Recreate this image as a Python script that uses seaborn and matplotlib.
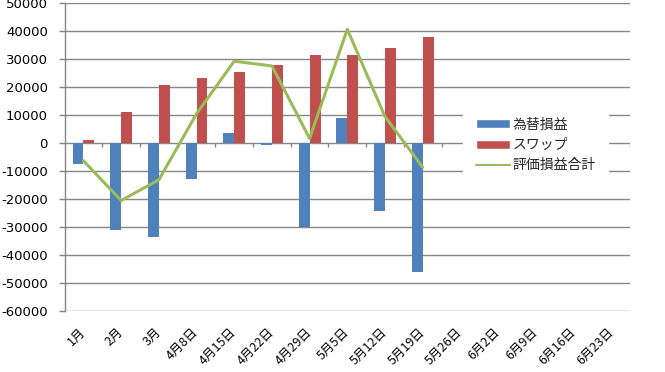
import numpy as np
import pandas as pd
import matplotlib
matplotlib.use("Agg")
import matplotlib.pyplot as plt
import seaborn as sns
from matplotlib.patches import Patch
from matplotlib.lines import Line2D

categories = ["1月", "2月", "3月", "4月8日", "4月15日", "4月22日", "4月29日",
              "5月5日", "5月12日", "5月19日", "5月26日", "6月2日", "6月9日",
              "6月16日", "6月23日"]
fx_pl = [-7300, -31200, -33700, -12700, 3700, -500, -29900, 9000, -24400, -46200]
swap = [1200, 11200, 20800, 23300, 25500, 28000, 31500, 31500, 34000, 38000]
total = [-6300, -20500, -13100, 10500, 29300, 27600, 1700, 40700, 9500, -8600]
series_names = ["為替損益", "スワップ", "評価損益合計"]
yticks = list(range(-60000, 50001, 10000))

sns.set_theme(style="white")
plt.rcParams['font.family'] = ['Noto Sans CJK JP', 'DejaVu Sans']

n = len(categories)
pad = [np.nan] * (n - len(fx_pl))
df = pd.DataFrame({
    "cat": categories * 2,
    "value": fx_pl + pad + swap + pad,
    "series": [series_names[0]] * n + [series_names[1]] * n,
})

fig = plt.figure(figsize=(6.65, 3.72), dpi=100)
ax = fig.add_axes([64.6 / 665, 1 - 311 / 372, (630 - 64.6) / 665, (311 - 3.3) / 372])

grid_c = "#868686"
ax.set_ylim(-60000, 50000)
ax.set_yticks(yticks)
for y in yticks:
    ax.axhline(y, color=grid_c, lw=1.0, zorder=0)

sns.barplot(data=df, x="cat", y="value", hue="series", order=categories,
            palette=["#4F81BD", "#C0504D"], width=0.58, saturation=1,
            linewidth=0, edgecolor="none", ax=ax, legend=False)
for p in ax.patches:
    p.set_zorder(2)

sns.lineplot(x=np.arange(len(total)), y=total, color="#9BBB59", lw=2.2,
             ax=ax, zorder=3)

ax.set_xlim(-0.5, n - 0.5)
ax.set_ylim(-60000, 50000)
ax.set_xlabel("")
ax.set_ylabel("")

# category boundary ticks on the zero line
ax.vlines(np.arange(0.5, n, 1.0), -1400, 0, color=grid_c, lw=1.0, zorder=1)

for s in ["top", "right", "bottom"]:
    ax.spines[s].set_visible(False)
ax.spines["left"].set_color(grid_c)
ax.spines["left"].set_linewidth(1.0)

ax.tick_params(axis="y", which="major", left=True, length=4, width=1,
               color=grid_c, labelsize=9.5, pad=8, labelcolor="black")
ax.tick_params(axis="x", which="major", bottom=False, length=0,
               labelsize=9, labelcolor="black", pad=14)
ax.set_yticklabels([str(v) for v in yticks], family=['DejaVu Sans'])
ax.set_xticks(range(n))
ax.set_xticklabels(categories, rotation=45, ha="right", va="center",
                   rotation_mode="anchor")

handles = [Patch(facecolor="#4F81BD"), Patch(facecolor="#C0504D"),
           Line2D([0], [0], color="#9BBB59", lw=1.5)]
leg = fig.legend(handles, series_names, loc="center left",
                 bbox_to_anchor=(463 / 665, 1 - 145 / 372), fontsize=10,
                 frameon=True, fancybox=False, edgecolor="white",
                 facecolor="white", framealpha=1, handlelength=2.5,
                 handleheight=0.6, handletextpad=0.15, labelspacing=0.45,
                 borderpad=0.9, borderaxespad=0)
leg.set_zorder(5)

fig.savefig("out.png", dpi=100)
